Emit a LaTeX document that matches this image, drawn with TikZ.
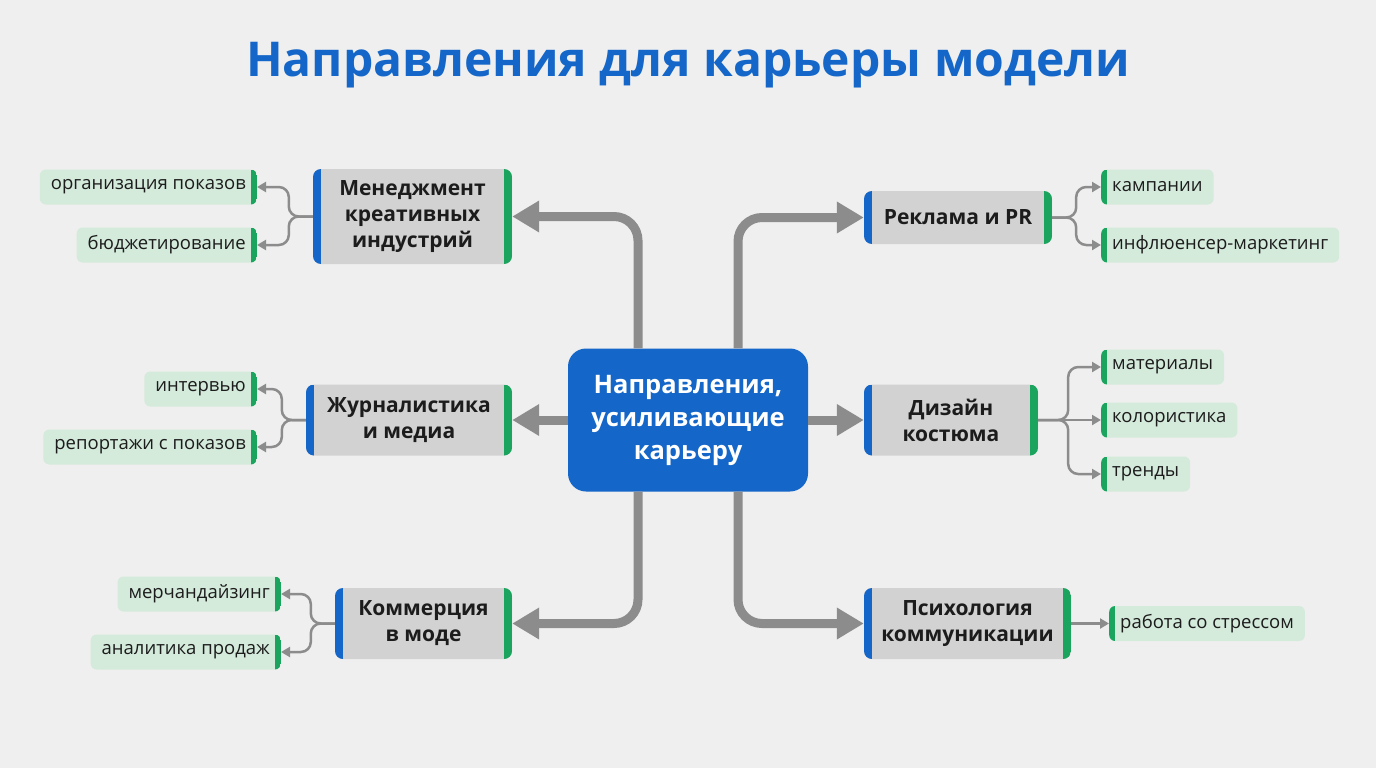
\documentclass[tikz,border=0pt]{standalone}
\usepackage{fontspec}
\setmainfont{Open Sans}
\usetikzlibrary{positioning,arrows.meta}
\definecolor{dirBlue}{HTML}{1466C8}
\definecolor{dirGreen}{HTML}{1BA45E}
\definecolor{dirGray}{HTML}{D2D2D2}
\definecolor{dirLeaf}{HTML}{D4EADB}
\definecolor{dirLine}{HTML}{8C8C8C}
\definecolor{dirBack}{HTML}{EFEFEF}
\definecolor{dirInk}{HTML}{1C1C1C}

\begin{document}
\begin{tikzpicture}[x=1pt, y=-1pt,
      hub/.style={rounded corners=18pt, fill=dirBlue, text=white, align=center,
                  minimum width=240pt, minimum height=143pt,
                  font=\fontsize{25.5}{33}\selectfont\bfseries},
      mid/.style={rounded corners=8pt, fill=dirGray, text=dirInk, align=center,
                  minimum height=71pt, font=\fontsize{21}{26}\selectfont\bfseries,
                  path picture={
                    \fill[dirBlue, sharp corners] (path picture bounding box.south west)
                      rectangle ([xshift=8pt]path picture bounding box.north west);
                    \fill[dirGreen, sharp corners] ([xshift=-8pt]path picture bounding box.south east)
                      rectangle (path picture bounding box.north east);}},
      leaf/.style={rounded corners=6pt, fill=dirLeaf, text=dirInk, minimum height=35pt,
                   inner xsep=11pt, font=\fontsize{18.5}{21}\selectfont},
      leafL/.style={leaf, anchor=east,
                    path picture={\fill[dirGreen, sharp corners] ([xshift=-6pt]path picture bounding box.south east)
                      rectangle (path picture bounding box.north east);}},
      leafR/.style={leaf, anchor=west,
                    path picture={\fill[dirGreen, sharp corners] (path picture bounding box.south west)
                      rectangle ([xshift=6pt]path picture bounding box.north west);}},
      big/.style={draw=dirLine, line width=9pt, rounded corners=24pt,
                  -{Triangle[length=27pt, width=30pt]}},
      sub/.style={draw=dirLine, line width=2.5pt, rounded corners=10pt,
                  -{Triangle[length=9pt, width=10pt]}}]
    \fill[dirBack] (0,0) rectangle (1376,768);
    \node[text=dirBlue, font=\fontsize{48}{52}\selectfont\bfseries] (title) at (688,65)
      {Направления для карьеры модели};

    % центр
    \node[hub] (c) at (688,420) {Направления,\\усиливающие\\карьеру};

    % направления
    \node[mid, minimum width=199pt, minimum height=95pt] (m1) at (412.5,216.5) {Менеджмент\\креативных\\индустрий};
    \node[mid, minimum width=206pt] (m2) at (409,420)   {Журналистика\\и медиа};
    \node[mid, minimum width=177pt] (m3) at (423.5,623.5) {Коммерция\\в моде};
    \node[mid, minimum width=188pt, minimum height=53pt] (m4) at (958,217.5) {Реклама и PR};
    \node[mid, minimum width=174pt] (m5) at (951,420)   {Дизайн\\костюма};
    \node[mid, minimum width=207pt] (m6) at (967.5,623.5) {Психология\\коммуникации};

    % подпункты
    \node[leafL] (l1) at (257,187) {организация показов};
    \node[leafL] (l2) at (257,245) {бюджетирование};
    \node[leafL] (l3) at (257,389) {интервью};
    \node[leafL] (l4) at (257,447) {репортажи с показов};
    \node[leafL] (l5) at (281,594) {мерчандайзинг};
    \node[leafL] (l6) at (281,652) {аналитика продаж};
    \node[leafR] (r1) at (1101,187) {кампании};
    \node[leafR] (r2) at (1101,245) {инфлюенсер-маркетинг};
    \node[leafR] (r3) at (1101,367) {материалы};
    \node[leafR] (r4) at (1101,420) {колористика};
    \node[leafR] (r5) at (1101,474) {тренды};
    \node[leafR] (r6) at (1109,623.5) {работа со стрессом};

    % толстые стрелки
    \draw[big] ([xshift=-50pt]c.north) |- (m1.east);
    \draw[big] ([xshift=50pt]c.north) |- (m4.west);
    \draw[big] (c.west) -- (m2.east);
    \draw[big] (c.east) -- (m5.west);
    \draw[big] ([xshift=-50pt]c.south) |- (m3.east);
    \draw[big] ([xshift=50pt]c.south) |- (m6.west);

    % ветки
    \draw[sub] (m1.west) -- ++(-24,0) |- (l1.east);
    \draw[sub] (m1.west) -- ++(-24,0) |- (l2.east);
    \draw[sub] (m2.west) -- ++(-24,0) |- (l3.east);
    \draw[sub] (m2.west) -- ++(-24,0) |- (l4.east);
    \draw[sub] (m3.west) -- ++(-24,0) |- (l5.east);
    \draw[sub] (m3.west) -- ++(-24,0) |- (l6.east);
    \draw[sub] (m4.east) -- ++(24,0) |- (r1.west);
    \draw[sub] (m4.east) -- ++(24,0) |- (r2.west);
    \draw[sub] (m5.east) -- ++(30,0) |- (r3.west);
    \draw[sub] (m5.east) -- (r4.west);
    \draw[sub] (m5.east) -- ++(30,0) |- (r5.west);
    \draw[sub] (m6.east) -- (r6.west);
  \end{tikzpicture}
\end{document}
